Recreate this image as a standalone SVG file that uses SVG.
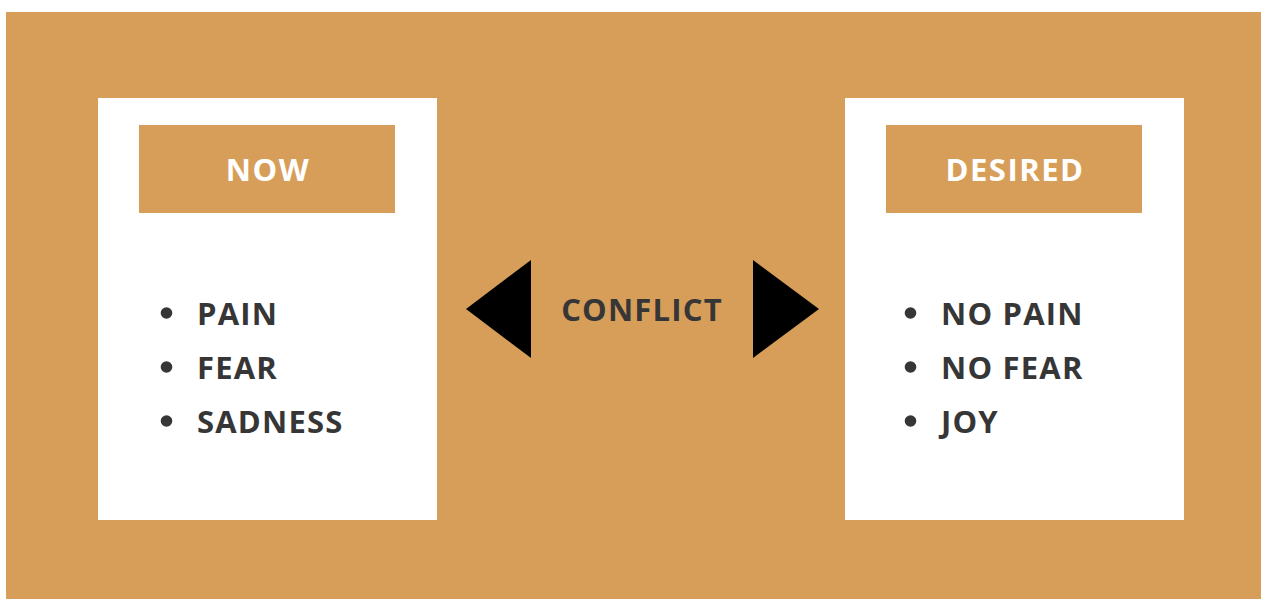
<svg xmlns="http://www.w3.org/2000/svg" width="1261" height="599" viewBox="0 0 1261 599">
  <style>
    .panel { fill: #ffffff; }
    .head { fill: #D79E5A; }
    .head-text { font-family: "Open Sans", "Liberation Sans", sans-serif; font-weight: 700; font-size: 31px; letter-spacing: 1.5px; fill: #ffffff; text-anchor: middle; }
    .item { font-family: "Open Sans", "Liberation Sans", sans-serif; font-weight: 700; font-size: 31px; letter-spacing: 1.2px; fill: #363636; }
    .dot { fill: #363636; }
    .arrow { fill: #000000; }
  </style>
  <rect x="0" y="0" width="1261" height="599" fill="#ffffff"/>
  <rect x="6" y="12" width="1255" height="587" fill="#D79E5A"/>

  <g id="now">
    <rect class="panel" x="98" y="98" width="339" height="422"/>
    <rect class="head" x="139" y="125" width="256" height="88"/>
    <text class="head-text" x="268" y="181">NOW</text>
    <circle class="dot" cx="166.5" cy="313" r="5.8"/>
    <circle class="dot" cx="166.5" cy="367" r="5.8"/>
    <circle class="dot" cx="166.5" cy="421" r="5.8"/>
    <text class="item" x="197" y="324.5">PAIN</text>
    <text class="item" x="197" y="378.5">FEAR</text>
    <text class="item" x="197" y="432.5">SADNESS</text>
  </g>

  <g id="desired">
    <rect class="panel" x="845" y="98" width="339" height="422"/>
    <rect class="head" x="886" y="125" width="256" height="88"/>
    <text class="head-text" x="1015" y="181">DESIRED</text>
    <circle class="dot" cx="910.5" cy="313" r="5.8"/>
    <circle class="dot" cx="910.5" cy="367" r="5.8"/>
    <circle class="dot" cx="910.5" cy="421" r="5.8"/>
    <text class="item" x="941" y="324.5">NO PAIN</text>
    <text class="item" x="941" y="378.5">NO FEAR</text>
    <text class="item" x="941" y="432.5">JOY</text>
  </g>

  <g id="connectors">
    <polygon class="arrow" points="466,309 531,260 531,358"/>
    <polygon class="arrow" points="819,309 753,260 753,358"/>
    <text class="item" x="642" y="321" text-anchor="middle">CONFLICT</text>
  </g>
</svg>
